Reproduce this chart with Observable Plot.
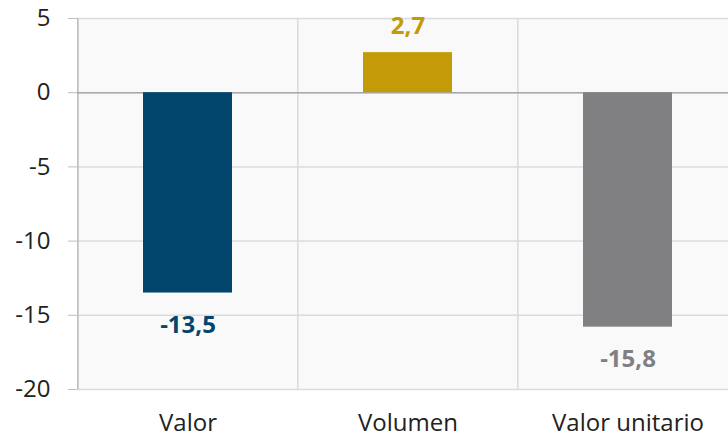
<!DOCTYPE html>
<html>
<head>
<meta charset="utf-8">
<script src="https://cdn.jsdelivr.net/npm/d3@7"></script>
<script src="https://cdn.jsdelivr.net/npm/@observablehq/plot@0.6"></script>
<style>
  html, body { margin: 0; padding: 0; background: #ffffff; }
  svg { display: block; }
</style>
</head>
<body>
<div id="chart"></div>
<script>
const categories = ["Valor", "Volumen", "Valor unitario"];
const values = [-13.5, 2.7, -15.8];
const colors = ["#02466E", "#C39A07", "#808083"];
const yTicks = [-20, -15, -10, -5, 0, 5];

const data = categories.map((c, i) => ({cat: c, value: values[i], color: colors[i]}));
const fmt = d => d.toFixed(1).replace(".", ",");
const font = "'Open Sans', 'DejaVu Sans', sans-serif";

const chart = Plot.plot({
  width: 728,
  height: 437,
  marginTop: 18,
  marginBottom: 48,
  marginLeft: 77,
  marginRight: 0,
  style: {fontFamily: font, background: "#ffffff", color: "#222"},
  x: {domain: categories, range: [77, 738], paddingInner: 0.596, paddingOuter: 0.298},
  y: {domain: [-20, 5]},
  marks: [
    Plot.frame({fill: "#F9F9FA", stroke: null}),
    Plot.ruleY(yTicks, {stroke: "#D9DBDF", strokeWidth: 1.5}),
    Plot.ruleX(categories, {x: d => d, dx: -110.2, stroke: "#D9DBDF", strokeWidth: 1.5}),
    Plot.ruleX([categories[0]], {x: d => d, dx: -110.2, stroke: "#BDBEC0", strokeWidth: 1.5}),
    Plot.ruleY([0], {stroke: "#A8A8AA", strokeWidth: 1.5}),
    Plot.barY(data, {x: "cat", y: "value", fill: "color"}),
    Plot.text(data, {
      x: "cat", y: "value", text: d => fmt(d.value), fill: "color",
      fontSize: 24, fontWeight: "bold", letterSpacing: 0.5,
      filter: d => d.value < 0, dy: 32
    }),
    Plot.text(data, {
      x: "cat", y: "value", text: d => fmt(d.value), fill: "color",
      fontSize: 24, fontWeight: "bold", letterSpacing: 0.5,
      filter: d => d.value >= 0, dy: -26
    }),
    Plot.axisY({ticks: yTicks, tickFormat: d => String(d), tickSize: 9, tickPadding: 18,
      fontSize: 24, stroke: "#BDBEC0", fill: "#222", label: null}),
    Plot.axisX({tickSize: 0, tickPadding: 24, fontSize: 24, fill: "#222", label: null,
      letterSpacing: 0.5})
  ]
});
document.getElementById("chart").appendChild(chart);
</script>
</body>
</html>
